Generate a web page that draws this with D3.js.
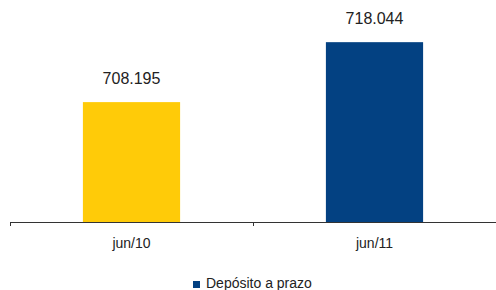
<!DOCTYPE html>
<html>
  <head>
    <meta charset="utf-8">
    <script src="https://d3js.org/d3.v7.min.js"></script>
    <style>
      body { margin: 0; background: #fff; }
      text { font-family: "Liberation Sans", Arial, sans-serif; fill: #222; }
    </style>
  </head>
  <body>
    <div id="chart"></div>
    <script>
      // data
      var categories = ["jun/10", "jun/11"];
      var values = [708195, 718044];
      var barColors = ["#FFCB08", "#034182"];
      var legendLabel = "Depósito a prazo";

      var width = 496, height = 290;
      var svg = d3.select("#chart").append("svg")
        .attr("width", width)
        .attr("height", height);

      var ptBR = d3.formatLocale({ decimal: ",", thousands: ".", grouping: [3], currency: ["R$", ""] });
      var fmt = ptBR.format(",d");

      var x = d3.scaleBand()
        .domain(categories)
        .range([10, 496])
        .paddingInner(0.6)
        .paddingOuter(0.3);

      // band scale without padding, for tick marks between categories
      var xEdge = d3.scaleBand().domain(categories).range([10, 496]).padding(0);

      var y = d3.scaleLinear()
        .domain([688500, 723000])
        .range([222, 12]);

      var data = categories.map(function(c, i) { return { cat: c, value: values[i], color: barColors[i] }; });

      // bars
      svg.selectAll("rect.bar")
        .data(data)
        .enter().append("rect")
        .attr("class", "bar")
        .attr("x", function(d) { return x(d.cat); })
        .attr("width", x.bandwidth())
        .attr("y", function(d) { return y(d.value); })
        .attr("height", function(d) { return y.range()[0] - y(d.value); })
        .attr("fill", function(d) { return d.color; });

      // value labels
      svg.selectAll("text.val")
        .data(data)
        .enter().append("text")
        .attr("class", "val")
        .attr("x", function(d) { return x(d.cat) + x.bandwidth() / 2; })
        .attr("y", function(d) { return y(d.value) - 18; })
        .attr("text-anchor", "middle")
        .style("font-size", "16px")
        .text(function(d) { return fmt(d.value); });

      // x axis
      var axis = svg.append("g")
        .attr("transform", "translate(0,222)")
        .call(d3.axisBottom(x).tickSize(0).tickPadding(16));
      axis.select(".domain").attr("stroke", "#333").attr("d", "M10.5,0.5H496");
      axis.selectAll(".tick text").style("font-size", "14px").attr("fill", "#222");

      axis.selectAll("line.edge")
        .data(categories)
        .enter().append("line")
        .attr("class", "edge")
        .attr("x1", function(d) { return Math.round(xEdge(d)) + 0.5; })
        .attr("x2", function(d) { return Math.round(xEdge(d)) + 0.5; })
        .attr("y1", 0)
        .attr("y2", 4)
        .attr("stroke", "#333");

      // legend
      var legend = svg.append("g").attr("transform", "translate(193,281)");
      legend.append("rect").attr("width", 7).attr("height", 7).attr("fill", barColors[1]);
      legend.append("text")
        .attr("x", 13)
        .attr("y", 7)
        .style("font-size", "14px")
        .text(legendLabel);
    </script>
  </body>
</html>
